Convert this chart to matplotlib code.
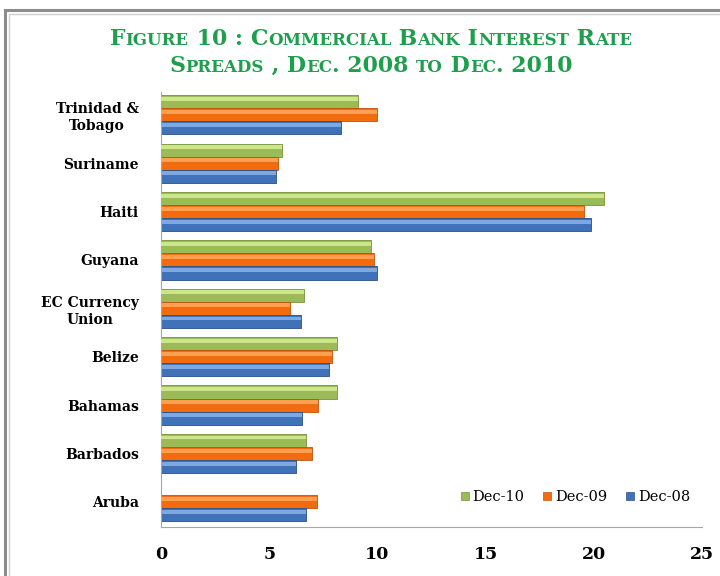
import matplotlib
matplotlib.use("Agg")
import matplotlib.pyplot as plt
from matplotlib.lines import Line2D
from matplotlib.patches import Rectangle
import numpy as np

categories = ["Aruba", "Barbados", "Bahamas", "Belize", "EC Currency\nUnion",
              "Guyana", "Haiti", "Suriname", "Trinidad &\nTobago"]
dec10 = [np.nan, 6.7, 8.15, 8.15, 6.6, 9.7, 20.45, 5.6, 9.1]
dec09 = [7.2, 7.0, 7.25, 7.9, 5.95, 9.85, 19.55, 5.4, 10.0]
dec08 = [6.7, 6.25, 6.5, 7.75, 6.45, 10.0, 19.85, 5.3, 8.3]
series_labels = ["Dec-10", "Dec-09", "Dec-08"]
xticks = [0, 5, 10, 15, 20, 25]

colors = {"Dec-10": ("#9BBB59", "#CDE68A", "#76923C"),
          "Dec-09": ("#F26B0F", "#FFA050", "#C0530A"),
          "Dec-08": ("#3F72B8", "#7FA8E0", "#2B4F86")}

fig = plt.figure(figsize=(7.2, 5.76), dpi=100)
fig.patch.set_facecolor("white")

# frame border
fig.patches.append(Rectangle((5/720, -0.05), 1.2, 1 - 10/576 + 0.05, transform=fig.transFigure,
                             fill=False, edgecolor="#8C8C8C", linewidth=2.2, zorder=0))
fig.patches.append(Rectangle((9/720, -0.05), 1.2, 1 - 14/576 + 0.05, transform=fig.transFigure,
                             fill=False, edgecolor="#D0D0D0", linewidth=1.0, zorder=0))

ax = fig.add_axes([161/720, 1 - 527/576, (702 - 161)/720, (527 - 92)/576])
y = np.arange(len(categories))
h = 0.27
offsets = [h, 0, -h]
for vals, lab, off in zip([dec10, dec09, dec08], series_labels, offsets):
    base, light, dark = colors[lab]
    v = np.array(vals, dtype=float)
    ax.barh(y + off, v, height=h, color=base, edgecolor=dark, linewidth=0.6, zorder=2)
    ax.barh(y + off + h * 0.22, v, height=h * 0.3, color=light, linewidth=0, zorder=3)

ax.set_xlim(0, 25)
ax.set_ylim(-0.52, 8.47)
ax.set_yticks(y)
ax.set_yticklabels(categories, fontfamily="DejaVu Serif", fontweight="bold",
                   fontsize=10, linespacing=1.25)
for lbl in ax.get_yticklabels():
    lbl.set_multialignment("center")
ax.set_xticks(xticks)
ax.set_xticklabels([str(t) for t in xticks], fontfamily="DejaVu Serif",
                   fontweight="bold", fontsize=12.5)
ax.tick_params(axis="both", length=0)
ax.tick_params(axis="y", pad=16)
ax.tick_params(axis="x", pad=14)
for s in ["top", "right"]:
    ax.spines[s].set_visible(False)
ax.spines["left"].set_color("#A6A6A6")
ax.spines["bottom"].set_color("#A6A6A6")

handles = [Line2D([], [], marker="s", linestyle="", markersize=6,
                  markerfacecolor=colors[l][0], markeredgecolor=colors[l][2],
                  markeredgewidth=0.5) for l in series_labels]
ax.legend(handles, series_labels, ncol=3, frameon=False, loc="center left",
          bbox_to_anchor=(0.525, 0.069), prop={"family": "DejaVu Serif", "size": 10.5},
          handletextpad=0.1, columnspacing=1.1, handlelength=0.9)

# small-caps title
green = "#1E9F4D"
S = 15.8
s = S * 0.76
line1 = [("F", S), ("IGURE", s), (" 10 : ", S), ("C", S), ("OMMERCIAL", s), (" B", S),
         ("ANK", s), (" I", S), ("NTEREST", s), (" R", S), ("ATE", s)]
line2 = [("S", S), ("PREADS", s), (" , D", S), ("EC", s), (". 2008 ", S), ("TO", s),
         (" D", S), ("EC", s), (". 2010", S)]

renderer = fig.canvas.get_renderer()

def draw_line(segs, cx, ybase):
    texts = []
    for t, sz in segs:
        tx = fig.text(0, ybase, t, fontsize=sz, fontfamily="DejaVu Serif",
                      fontweight="bold", color=green, va="baseline", ha="left")
        texts.append(tx)
    widths = [tx.get_window_extent(renderer).width for tx in texts]
    total = sum(widths)
    x = cx * 720 - total / 2
    for tx, w in zip(texts, widths):
        tx.set_x(x / 720)
        x += w

draw_line(line1, 371/720, 1 - 45/576)
draw_line(line2, 371/720, 1 - 72/576)

fig.savefig("out.png", dpi=100)
